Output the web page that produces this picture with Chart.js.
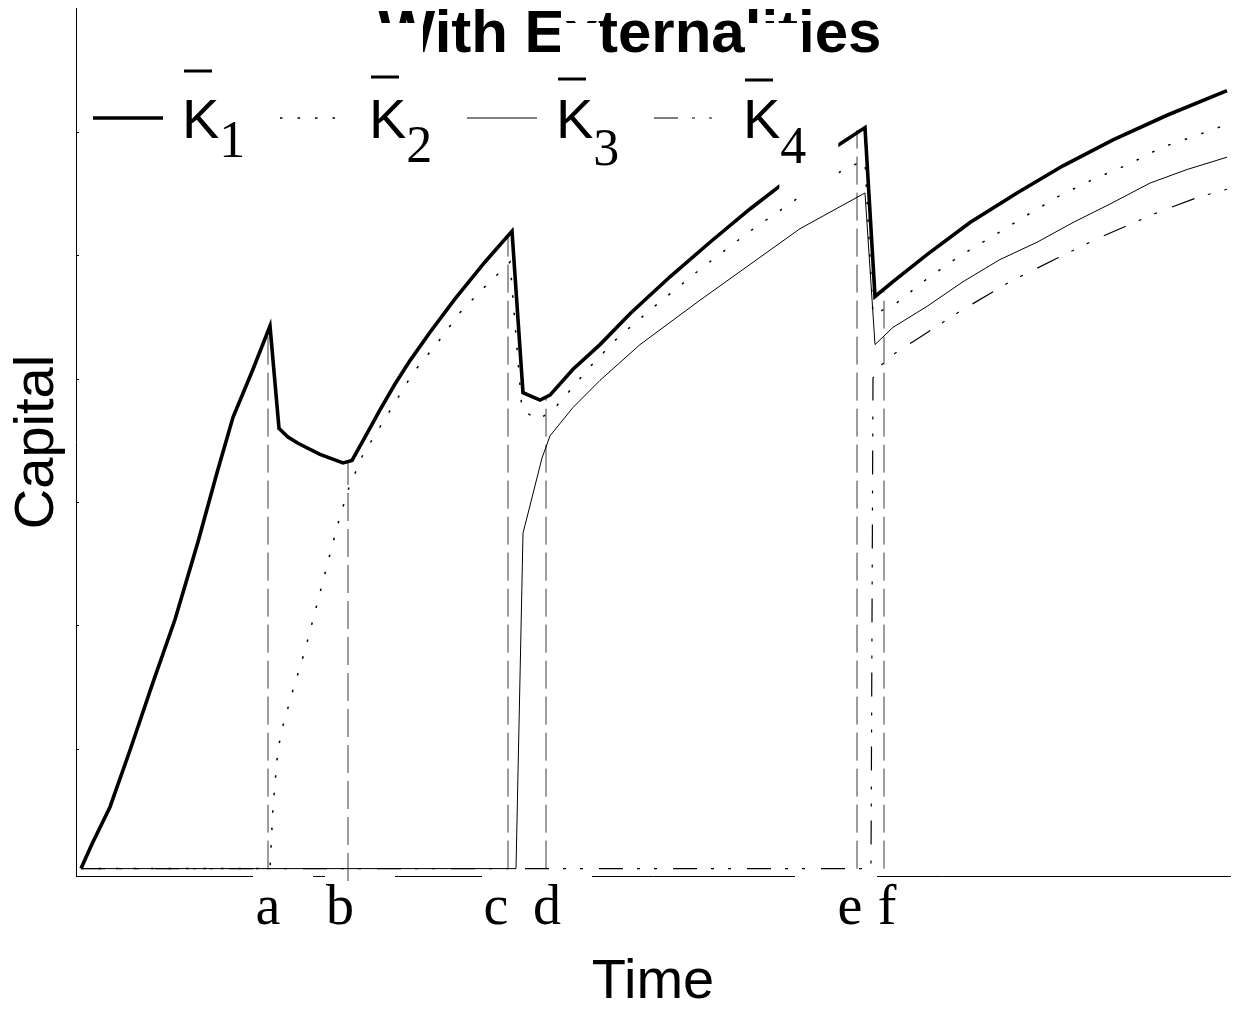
<!DOCTYPE html>
<html>
<head>
<meta charset="utf-8">
<script src="https://cdn.jsdelivr.net/npm/chart.js@4.4.1/dist/chart.umd.min.js"></script>
<style>
html,body{margin:0;padding:0;background:#fff;}
#wrap{width:1233px;height:1010px;position:relative;}
</style>
</head>
<body>
<div id="wrap"><canvas id="c"></canvas></div>
<script>
// ---------- data (time in arbitrary units, capital in tick units) ----------
const k1X = [0.05,0.16,0.34,0.54,0.77,0.99,1.22,1.41,1.57,1.77,1.94,2.03,2.12,2.22,2.44,2.67,2.76,2.89,3.04,3.19,3.34,3.54,3.79,4.09,4.36,4.47,4.64,4.74,4.97,5.24,5.54,5.94,6.34,6.74,7.14,7.59,7.89,7.99,8.17,8.51,8.94,9.41,9.87,10.37,10.91,11.51];
const k1Y = [0.03,0.23,0.53,0.99,1.54,2.05,2.68,3.24,3.69,4.08,4.43,3.60,3.53,3.48,3.39,3.32,3.34,3.53,3.75,3.96,4.15,4.38,4.65,4.95,5.20,3.89,3.83,3.87,4.08,4.28,4.53,4.83,5.11,5.38,5.63,5.88,6.04,4.67,4.79,5.01,5.27,5.51,5.73,5.94,6.14,6.34];

const k2X = [0.05,1.94,1.97,2.02,2.07,2.17,2.29,2.46,2.61,2.72,2.87,2.97,3.16,3.37,3.61,3.84,4.09,4.34,4.46,4.62,4.77,4.89,5.14,5.41,5.74,6.24,6.74,7.24,7.72,7.89,7.97,8.21,8.52,8.84,9.17,9.49,9.82,10.17,10.52,10.86,11.22,11.52];
const k2Y = [0.03,0.03,0.53,1.00,1.19,1.48,1.80,2.33,2.80,3.10,3.39,3.52,3.77,4.05,4.29,4.54,4.75,4.95,3.75,3.67,3.75,3.86,4.10,4.33,4.56,4.89,5.20,5.48,5.72,5.77,4.52,4.62,4.82,5.00,5.16,5.32,5.48,5.62,5.74,5.88,5.98,6.07];

const k3X = [0.05,4.40,4.47,4.66,4.74,4.97,5.24,5.64,6.24,6.74,7.24,7.89,7.99,8.17,8.51,8.87,9.24,9.61,9.97,10.34,10.74,11.11,11.51];
const k3Y = [0.03,0.03,2.75,3.36,3.54,3.77,3.99,4.28,4.64,4.93,5.22,5.51,4.28,4.42,4.59,4.79,4.97,5.11,5.27,5.42,5.59,5.70,5.80];

const k4X = [0.05,7.95,7.97,8.06,8.19,8.44,8.84,9.34,9.81,10.24,10.84,11.24,11.51];
const k4Y = [0.03,0.03,4.01,4.12,4.21,4.34,4.55,4.79,4.98,5.15,5.36,5.48,5.54];

// switching times (vertical dashed guides)
const markerX      = [1.92, 2.72, 4.32, 4.70, 7.81, 8.08];
const markerTop    = [4.40, 3.32, 5.15, 3.85, 6.02, 4.71];
const markerBottom = [0.03, -0.07, 0.03, 0.03, 0.03, 0.03];

// x tick labels
const tickPos    = [1.92, 2.64, 4.20, 4.71, 7.74, 8.11];
const tickLabels = ['a','b','c','d','e','f'];
// y tick marks (no labels)
const yTickValues = [1,2,3,4,5,6];

const seriesSubscripts = ['1','2','3','4'];
const titleText = 'With Externalities';
const xTitle = 'Time';
const yTitle = 'Capital';

// ---------- styles ----------
const seriesStyles = [
  {borderWidth:3.6, borderDash:[]},
  {borderWidth:1.5, borderDash:[2.5,15]},
  {borderWidth:1,   borderDash:[]},
  {borderWidth:1.2, borderDash:[24,14,3,14,3,16]}
];
const axisGaps = [[1.77,2.37],[2.49,3.19],[4.06,5.16],[7.19,8.01]];
const legendStyle = {x0:93, step:187, sampleLen:70, lineY:118, kOffset:89, kBase:138,
  barY:[71,77,79,80], subBase:[157,162,165,163], boxW:[48,50,40,56]};

const zip = (xs, ys) => xs.map((x, i) => ({x, y: ys[i]}));
const seriesX = [k1X,k2X,k3X,k4X], seriesY = [k1Y,k2Y,k3Y,k4Y];

const datasets = seriesX.map((xs, i) => ({
  label: 'K' + seriesSubscripts[i],
  data: zip(xs, seriesY[i]),
  borderColor: '#000',
  borderWidth: seriesStyles[i].borderWidth,
  borderDash: seriesStyles[i].borderDash,
  borderJoinStyle: 'miter',
  showLine: true, pointRadius: 0, tension: 0, fill: false
}));
markerX.forEach((x, i) => {
  datasets.push({
    label: 'guide' + tickLabels[i],
    data: [{x, y: markerBottom[i]}, {x, y: markerTop[i]}],
    borderColor: '#3a3a3a', borderWidth: 1, borderDash: [28, 8],
    showLine: true, pointRadius: 0, fill: false, clip: false
  });
});

const decor = {
  id: 'decor',
  beforeDatasetsDraw(chart) {
    const ctx = chart.ctx, xs = chart.scales.x, ca = chart.chartArea;
    ctx.save();
    ctx.fillStyle = '#fff';
    axisGaps.forEach(([a, b]) => {
      const x1 = xs.getPixelForValue(a), x2 = xs.getPixelForValue(b);
      ctx.fillRect(x1, ca.bottom - 3, x2 - x1, 7);
    });
    ctx.restore();
  },
  afterDatasetsDraw(chart) {
    const ctx = chart.ctx, L = legendStyle;
    ctx.save();
    // title
    ctx.fillStyle = '#000';
    ctx.font = 'bold 60px "Liberation Sans", Arial, sans-serif';
    ctx.textAlign = 'center';
    ctx.textBaseline = 'alphabetic';
    ctx.fillText(titleText, 630, 52);

    ctx.font = '56px "Liberation Sans", Arial, sans-serif';
    const kW = ctx.measureText('K').width;
    // white label boxes (as in the original rendering)
    ctx.fillStyle = '#fff';
    seriesSubscripts.forEach((s, i) => {
      const x0 = L.x0 + i * L.step;
      const kx = x0 + L.kOffset;
      ctx.fillRect(kx + 4, 23, L.boxW[i], 67);
      const sx = kx + kW;
      ctx.fillRect(sx - 1, 100, 59, 92);
    });
    // legend entries
    seriesSubscripts.forEach((s, i) => {
      const x0 = L.x0 + i * L.step;
      const st = seriesStyles[i];
      ctx.strokeStyle = '#000';
      ctx.lineWidth = st.borderWidth;
      ctx.setLineDash(st.borderDash);
      ctx.beginPath();
      ctx.moveTo(x0, L.lineY);
      ctx.lineTo(x0 + L.sampleLen, L.lineY);
      ctx.stroke();
      ctx.setLineDash([]);
      const kx = x0 + L.kOffset;
      ctx.fillStyle = '#000';
      ctx.textAlign = 'left';
      ctx.font = '56px "Liberation Sans", Arial, sans-serif';
      ctx.fillText('K', kx, L.kBase);
      ctx.fillRect(kx + 2, L.barY[i] - 1.5, 28, 3);
      ctx.font = '52px "Liberation Serif", "Times New Roman", serif';
      ctx.fillText(s, kx + kW, L.subBase[i]);
    });
    ctx.restore();
  }
};

new Chart(document.getElementById('c'), {
  type: 'scatter',
  data: {datasets},
  plugins: [decor],
  options: {
    animation: false,
    responsive: true,
    maintainAspectRatio: false,
    devicePixelRatio: 1,
    layout: {padding: {top: 8, right: 3, bottom: 0, left: 0}},
    plugins: {legend: {display: false}, title: {display: false}, tooltip: {enabled: false}},
    elements: {point: {radius: 0}, line: {tension: 0}},
    scales: {
      x: {
        type: 'linear', min: 0, max: 11.54,
        afterFit: s => { s.height = 134; },
        afterBuildTicks: s => { s.ticks = tickPos.map(v => ({value: v})); },
        ticks: {
          autoSkip: false, maxRotation: 0, minRotation: 0, padding: 0, color: '#000',
          font: {family: '"Liberation Serif", "Times New Roman", serif', size: 56, lineHeight: 1.2},
          callback: (v, i) => tickLabels[i]
        },
        grid: {display: false, drawTicks: false},
        border: {display: true, color: '#000', width: 1},
        title: {display: true, text: xTitle, color: '#000',
          font: {family: '"Liberation Sans", Arial, sans-serif', size: 56, lineHeight: 0.9},
          padding: {top: 0, bottom: 2}}
      },
      y: {
        type: 'linear', min: -0.03, max: 7.01,
        afterFit: s => { s.width = 76; },
        afterBuildTicks: s => { s.ticks = yTickValues.map(v => ({value: v})); },
        ticks: {display: false},
        grid: {drawOnChartArea: false, drawTicks: true, tickLength: -3, color: '#000', lineWidth: 1},
        border: {display: true, color: '#000', width: 1},
        title: {display: true, text: yTitle, color: '#000',
          font: {family: '"Liberation Sans", Arial, sans-serif', size: 56, lineHeight: 1.2},
          padding: {top: 4, bottom: 0}}
      }
    }
  }
});
</script>
</body>
</html>
